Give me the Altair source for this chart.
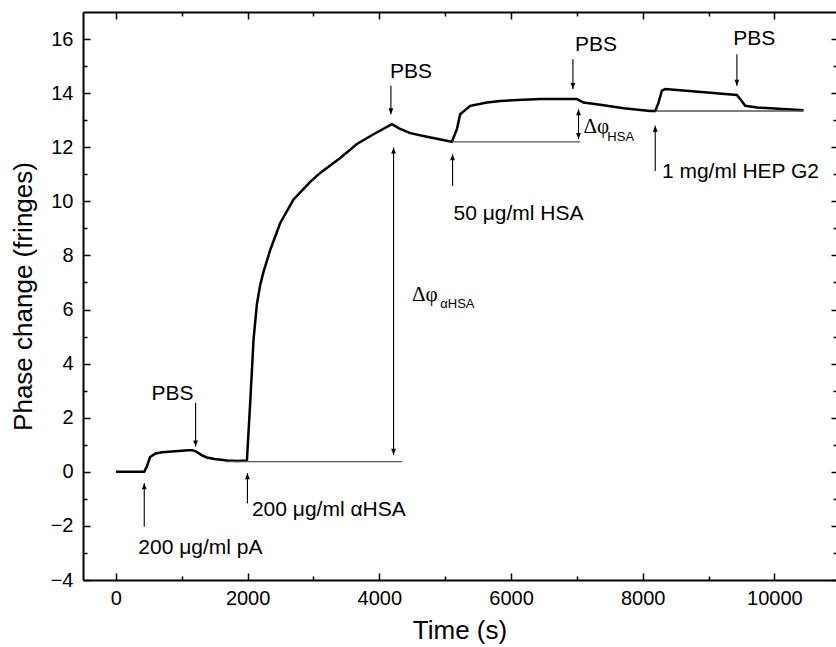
import altair as alt
import pandas as pd

FONT = "Liberation Sans"
SERIF = "Liberation Serif"

# ---- main sensorgram trace (time in s, phase change in fringes) ----
time_s = [0, 200, 430, 470, 520, 600, 700, 900, 1100, 1160, 1220, 1300, 1380, 1500,
          1690, 1850, 1989, 2040, 2090, 2141, 2190, 2242, 2343, 2495, 2697, 2951, 3102,
          3406, 3660, 3912, 4191, 4300, 4469, 4723, 5102, 5178, 5228,
          5380, 5634, 5836, 6100, 6444, 7001, 7101, 7355, 7709, 8114, 8190, 8240,
          8291, 8342, 9430, 9480, 9557, 9734, 10442]
phase = [0, 0, 0, 0.2, 0.55, 0.68, 0.72, 0.76, 0.8, 0.8, 0.75, 0.62, 0.53, 0.47,
         0.42, 0.4, 0.42, 2.6, 4.9, 6.2, 6.9, 7.4, 8.2, 9.2, 10.07, 10.72, 11.05,
         11.6, 12.12, 12.48, 12.85, 12.7, 12.52, 12.39, 12.2, 12.67, 13.22,
         13.53, 13.65, 13.71, 13.75, 13.78, 13.78, 13.65, 13.57, 13.44, 13.34, 13.34, 13.65,
         14.09, 14.15, 13.93, 13.78, 13.53, 13.47, 13.37]

# ---- axis ticks ----
x_major = [0, 2000, 4000, 6000, 8000, 10000]
x_minor = [1000, 3000, 5000, 7000, 9000]
y_major = [-4, -2, 0, 2, 4, 6, 8, 10, 12, 14, 16]
y_minor = [-3, -1, 1, 3, 5, 7, 9, 11, 13, 15]

# ---- baselines (thin horizontal reference lines) ----
base_start = [1660, 5102, 8190]
base_end = [4343, 7051, 10440]
base_level = [0.38, 12.2, 13.34]

# ---- single arrows: position, tail, tip ----
arrow_t = [430, 1997, 1210, 4176, 6940, 9430, 5112, 8190]
arrow_tail = [-2.03, -1.16, 2.55, 14.27, 15.26, 15.44, 10.57, 11.12]
arrow_tip = [-0.42, -0.05, 0.94, 13.22, 14.15, 14.27, 11.74, 12.79]

# ---- double arrows: position, low tip, high tip ----
darrow_t = [4216, 7025]
darrow_low = [0.63, 12.3]
darrow_high = [11.99, 13.4]

# ---- labels ----
left_text = ["200 \u03bcg/ml pA", "200 \u03bcg/ml \u03b1HSA", "50 \u03bcg/ml HSA", "1 mg/ml HEP G2"]
left_text_t = [340, 2065, 5127, 8291]
left_text_y = [-2.83, -1.4, 9.52, 11.1]

pbs_text = ["PBS", "PBS", "PBS", "PBS"]
pbs_t = [860, 4480, 7292, 9693]
pbs_y = [2.87, 14.8, 15.78, 16.0]

delta_text = ["\u0394\u03c6", "\u0394\u03c6"]
delta_t = [4495, 7100]
delta_y = [6.52, 12.76]
sub_text = ["\u03b1HSA", "HSA"]
sub_t = [4925, 7463]
sub_y = [6.19, 12.39]

# ------------------------------------------------------------------
x_scale = alt.Scale(domain=[-500, 10935], nice=False, zero=False)
y_scale = alt.Scale(domain=[-4, 17], nice=False, zero=False)

curve = pd.DataFrame({"t": time_s, "phase": phase})


def tick_axis(orient, values, size):
    return alt.Axis(orient=orient, values=values, ticks=True, tickSize=size,
                    tickWidth=1.5, tickColor="black", offset=-size, domain=False,
                    labels=False, grid=False, title=None)


x_label_axis = alt.Axis(orient="bottom", values=x_major, format="d", ticks=False, domain=True,
                        domainColor="black", domainWidth=2, labels=True, labelFont=FONT,
                        labelFontSize=20, labelColor="black", labelPadding=8,
                        labelFlush=False, labelOverlap=False, grid=False,
                        title="Time (s)", titleFont=FONT, titleFontSize=26,
                        titleFontWeight="normal", titleColor="black", titlePadding=9)
y_label_axis = alt.Axis(orient="left", values=y_major, format="d", ticks=False, domain=True,
                        domainColor="black", domainWidth=2, labels=True, labelFont=FONT,
                        labelFontSize=20, labelColor="black", labelPadding=10,
                        labelFlush=False, labelOverlap=False, grid=False,
                        title="Phase change (fringes)", titleFont=FONT, titleFontSize=26,
                        titleFontWeight="normal", titleColor="black", titlePadding=14)
x_top_axis = alt.Axis(orient="top", values=x_major, ticks=False, domain=True,
                      domainColor="black", domainWidth=2, labels=False, grid=False, title=None)


def enc_x(axis):
    return alt.X("t:Q", scale=x_scale, axis=axis)


def enc_y(axis):
    return alt.Y("phase:Q", scale=y_scale, axis=axis)


line_layer = alt.Chart(curve).mark_line(color="black", strokeWidth=2.5).encode(
    x=enc_x(x_label_axis), y=enc_y(y_label_axis))

ghost = alt.Chart(curve).mark_line(opacity=0)
maj1 = ghost.encode(x=enc_x(tick_axis("bottom", x_major, 7)), y=enc_y(tick_axis("left", y_major, 7)))
min1 = ghost.encode(x=enc_x(tick_axis("bottom", x_minor, 4)), y=enc_y(tick_axis("left", y_minor, 4)))
maj2 = ghost.encode(x=enc_x(tick_axis("top", x_major, 7)), y=enc_y(tick_axis("right", y_major, 5)))
min2 = ghost.encode(x=enc_x(tick_axis("top", x_minor, 4)), y=enc_y(tick_axis("right", y_minor, 3)))
top_dom = ghost.encode(x=enc_x(x_top_axis), y=enc_y(None))

# baselines
base_df = pd.DataFrame({"t": base_start, "t2": base_end, "phase": base_level})
base_layer = alt.Chart(base_df).mark_rule(color="#555555", strokeWidth=1.3).encode(
    x=enc_x(None), x2="t2:Q", y=enc_y(None))

# arrow shafts
shaft_t = arrow_t + darrow_t
shaft_a = arrow_tail + darrow_low
shaft_b = arrow_tip + darrow_high
shaft_df = pd.DataFrame({"t": shaft_t, "phase": shaft_a, "p2": shaft_b})
shaft_layer = alt.Chart(shaft_df).mark_rule(color="black", strokeWidth=1.1).encode(
    x=enc_x(None), y=enc_y(None), y2="p2:Q")

# arrow heads
head_t, head_y, head_dir = [], [], []
for t, a, b in zip(arrow_t, arrow_tail, arrow_tip):
    head_t.append(t)
    head_y.append(b)
    head_dir.append("up" if b > a else "down")
for t, lo, hi in zip(darrow_t, darrow_low, darrow_high):
    head_t += [t, t]
    head_y += [lo, hi]
    head_dir += ["down", "up"]
head_df = pd.DataFrame({"t": head_t, "phase": head_y, "dir": head_dir})
UP = "M0,0L-0.4,1L0.4,1Z"
DOWN = "M0,0L-0.4,-1L0.4,-1Z"
head_layer = alt.Chart(head_df).mark_point(filled=True, color="black", opacity=1,
                                            size=144, strokeWidth=0).encode(
    x=enc_x(None), y=enc_y(None),
    shape=alt.Shape("dir:N", scale=alt.Scale(domain=["up", "down"], range=[UP, DOWN]),
                    legend=None))

# texts
lt_df = pd.DataFrame({"t": left_text_t, "phase": left_text_y, "label": left_text})
lt_layer = alt.Chart(lt_df).mark_text(align="left", baseline="middle", font=FONT,
                                      fontSize=21, color="black").encode(
    x=enc_x(None), y=enc_y(None), text="label:N")

pbs_df = pd.DataFrame({"t": pbs_t, "phase": pbs_y, "label": pbs_text})
pbs_layer = alt.Chart(pbs_df).mark_text(align="center", baseline="middle", font=FONT,
                                        fontSize=21, color="black").encode(
    x=enc_x(None), y=enc_y(None), text="label:N")

d_df = pd.DataFrame({"t": delta_t, "phase": delta_y, "label": delta_text})
d_layer = alt.Chart(d_df).mark_text(align="left", baseline="middle", font=SERIF,
                                    fontSize=21, color="black").encode(
    x=enc_x(None), y=enc_y(None), text="label:N")

s_df = pd.DataFrame({"t": sub_t, "phase": sub_y, "label": sub_text})
s_layer = alt.Chart(s_df).mark_text(align="left", baseline="middle", font=FONT,
                                    fontSize=13, color="black").encode(
    x=enc_x(None), y=enc_y(None), text="label:N")

chart = alt.layer(
    line_layer, maj1, min1, maj2, min2, top_dom,
    base_layer, shaft_layer, head_layer, lt_layer, pbs_layer, d_layer, s_layer
).resolve_axis(x="independent", y="independent").properties(
    width=753, height=568,
    autosize=alt.AutoSizeParams(type="none"),
    padding={"left": 83, "top": 12, "right": 0, "bottom": 67},
    background="white",
).configure_view(strokeWidth=0)

chart.save("out.html", embed_options={"renderer": "svg", "actions": False})
